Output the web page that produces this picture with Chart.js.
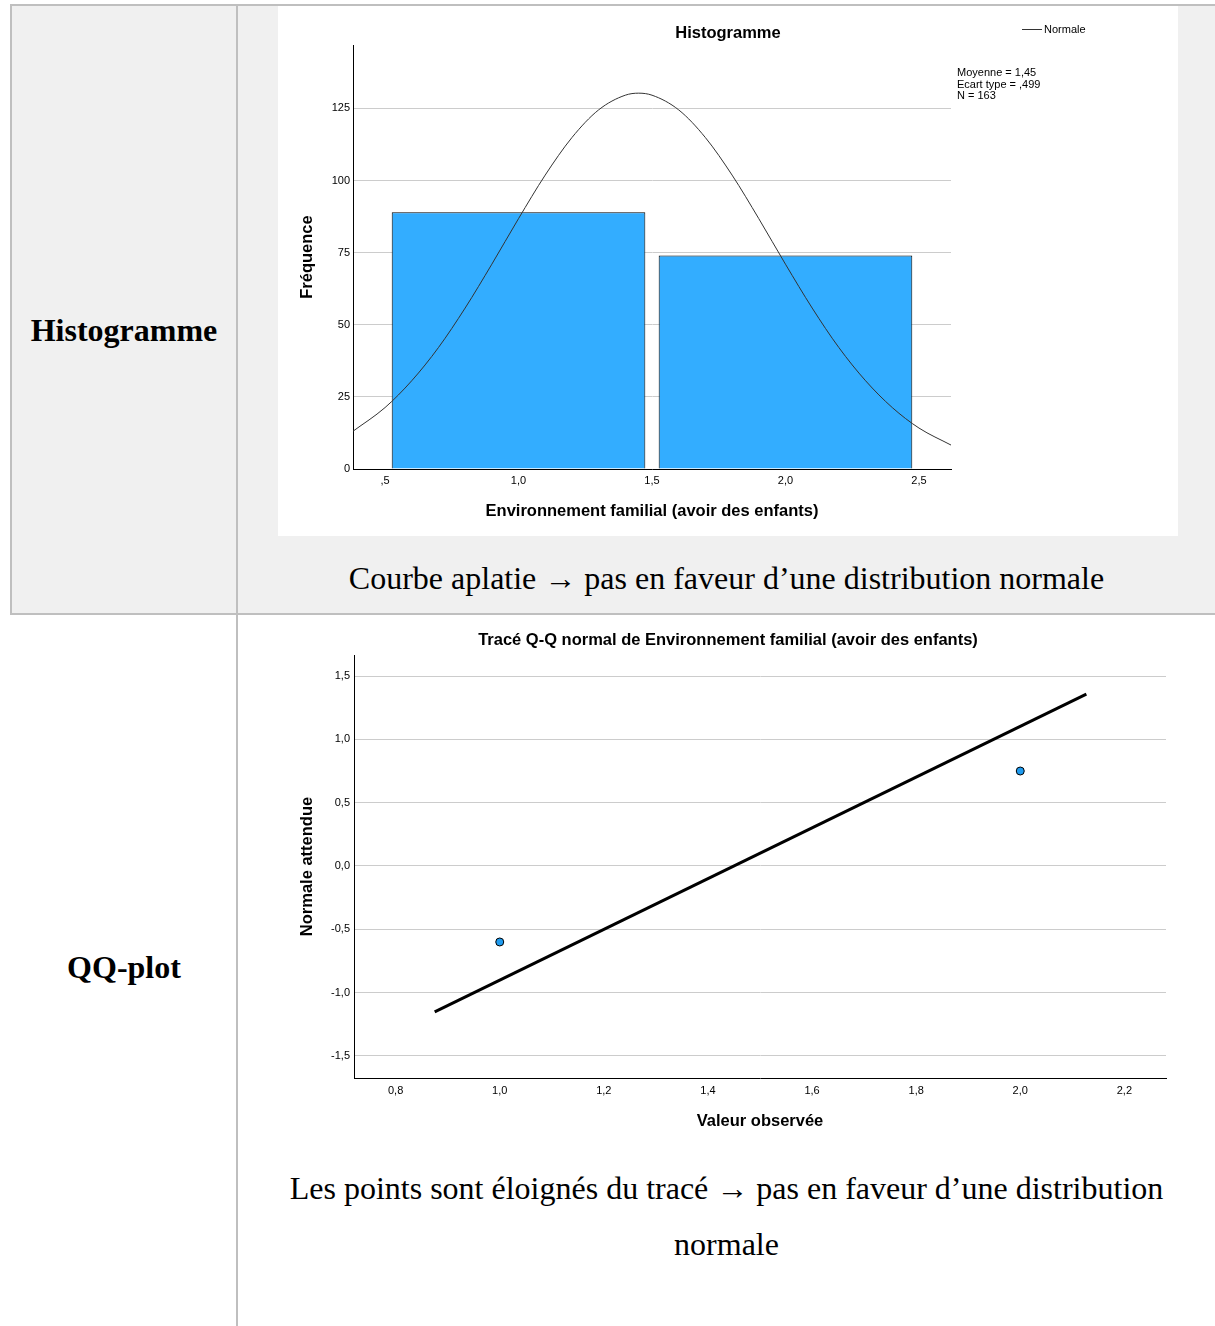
<!DOCTYPE html>
<html>
<head>
<meta charset="utf-8">
<script src="https://cdn.jsdelivr.net/npm/chart.js@4.4.1/dist/chart.umd.min.js"></script>
<style>
body { margin:0; width:1215px; height:1326px; overflow:hidden; background:#fff; position:relative; font-family:"Liberation Sans", Arial, sans-serif; }
.abs { position:absolute; }
.row1 { left:11px; top:5px; width:1204px; height:609px; background:#f0f0f0; }
.line { background:#bfbfbf; }
.serif { font-family:"Liberation Serif","Times New Roman",serif; color:#000; text-align:center; white-space:nowrap; }
.label { left:12px; width:224px; font-size:32px; font-weight:bold; line-height:40px; }
.caption { left:238px; width:977px; font-size:32px; line-height:56px; }
canvas { background:#fff; }
.small { font-size:11px; color:#000; white-space:nowrap; }
</style>
</head>
<body>
<div class="abs row1"></div>
<div class="abs line" style="left:10px;top:4px;width:1205px;height:2px"></div>
<div class="abs line" style="left:10px;top:4px;width:2px;height:611px"></div>
<div class="abs line" style="left:236px;top:4px;width:2px;height:1322px"></div>
<div class="abs line" style="left:10px;top:613px;width:1205px;height:2px"></div>

<div class="abs serif label" style="top:310px">Histogramme</div>
<div class="abs serif label" style="top:947px">QQ-plot</div>

<canvas id="histChart" class="abs" width="900" height="530" style="left:278px;top:6px"></canvas>
<div class="abs" style="left:578px;top:22px;width:300px;text-align:center;font-size:16.5px;font-weight:bold;line-height:20px;color:#000">Histogramme</div>
<div class="abs" style="left:1022px;top:29px;width:20px;height:1px;background:#333"></div>
<div class="abs small" style="left:1044px;top:22px;line-height:14px">Normale</div>
<div class="abs small" style="left:957px;top:67px;line-height:11.5px">Moyenne = 1,45<br>Ecart type = ,499<br>N = 163</div>

<div class="abs serif caption" style="top:550px">Courbe aplatie &rarr; pas en faveur d’une distribution normale</div>

<canvas id="qqChart" class="abs" width="900" height="524" style="left:278px;top:616px"></canvas>

<div class="abs serif caption" style="top:1160px">Les points sont éloignés du tracé &rarr; pas en faveur d’une distribution<br>normale</div>

<script>
// histogram data
const histBins = [1, 2];
const histFreq = [89, 74];
const histXTicks = [0.5, 1.0, 1.5, 2.0, 2.5];
const histYTicks = [0, 25, 50, 75, 100, 125];
// normal curve
const curveX = [0.38, 0.5, 0.6, 0.7, 0.8, 0.9, 1.0, 1.1, 1.2, 1.3, 1.4, 1.45, 1.5, 1.6, 1.7, 1.8, 1.9, 2.0, 2.1, 2.2, 2.3, 2.4, 2.5, 2.62];
const curveY = [13.1, 21.3, 30.6, 42.1, 55.8, 71.0, 86.8, 101.9, 114.9, 124.5, 129.6, 130.3, 129.6, 124.5, 114.9, 101.9, 86.8, 71.0, 55.8, 42.1, 30.6, 21.3, 14.2, 8.3];

// QQ plot data
const qqObserved = [1, 2];
const qqExpected = [-0.6, 0.75];
const qqLineX = [0.875, 2.127];
const qqLineY = [-1.152, 1.357];
const qqXTicks = [0.8, 1.0, 1.2, 1.4, 1.6, 1.8, 2.0, 2.2];
const qqYTicks = [-1.5, -1.0, -0.5, 0.0, 0.5, 1.0, 1.5];

const frNum = (v, dropZero) => {
    let s = v.toFixed(1).replace('.', ',');
    if (dropZero) s = s.replace(/^0,/, ',');
    return s;
};
const setTicks = list => s => { s.ticks = list.map(v => ({ value: v })); };

const tickFont = { family: 'Liberation Sans', size: 11 };
const axisTitleFont = { family: 'Liberation Sans', size: 16.5, weight: 'bold' };
const titleFont = { family: 'Liberation Sans', size: 16.5, weight: 'bold' };
const gridColor = '#cccccc';

Chart.defaults.color = '#000';

//histogram
new Chart(document.getElementById('histChart'), {
    type: 'bar',
    data: {
        datasets: [
            {
                type: 'line',
                data: curveX.map((x, i) => ({ x: x, y: curveY[i] })),
                borderColor: '#333',
                borderWidth: 1,
                pointRadius: 0,
                cubicInterpolationMode: 'monotone',
                order: 1
            },
            {
                data: histBins.map((x, i) => ({ x: x, y: histFreq[i] })),
                backgroundColor: '#33adff',
                borderColor: '#000',
                borderWidth: 1,
                barPercentage: 1.9,
                categoryPercentage: 1,
                order: 2
            }
        ]
    },
    options: {
        responsive: false,
        animation: false,
        layout: { padding: { left: 0, right: 227, top: 39, bottom: 0 } },
        plugins: {
            legend: { display: false },
            tooltip: { enabled: false },
            title: { display: false }
        },
        scales: {
            x: {
                type: 'linear',
                min: 0.38,
                max: 2.62,
                offset: false,
                afterBuildTicks: setTicks(histXTicks),
                afterFit: s => { s.height = 67; },
                ticks: { font: tickFont, padding: 5, maxRotation: 0, autoSkip: false, callback: v => frNum(v, true) },
                grid: { display: false, drawTicks: false },
                border: { display: true, color: '#000', width: 1 },
                title: { display: true, text: 'Environnement familial (avoir des enfants)', font: axisTitleFont, padding: { top: 0, bottom: 15.1 } }
            },
            y: {
                min: 0,
                max: 147,
                afterBuildTicks: setTicks(histYTicks),
                afterFit: s => { s.width = 75; },
                ticks: { font: tickFont, padding: 3, autoSkip: false },
                grid: { color: gridColor, drawTicks: false },
                border: { display: true, color: '#000', width: 1 },
                title: { display: true, text: 'Fréquence', font: axisTitleFont, padding: { top: 19.1, bottom: 0 } }
            }
        }
    }
});

//qq plot
new Chart(document.getElementById('qqChart'), {
    type: 'scatter',
    data: {
        datasets: [
            {
                data: qqObserved.map((x, i) => ({ x: x, y: qqExpected[i] })),
                backgroundColor: '#1f9bef',
                borderColor: '#000',
                borderWidth: 1,
                pointRadius: 4,
                order: 1
            },
            {
                type: 'line',
                data: qqLineX.map((x, i) => ({ x: x, y: qqLineY[i] })),
                borderColor: '#000',
                borderWidth: 3,
                pointRadius: 0,
                order: 2
            }
        ]
    },
    options: {
        responsive: false,
        animation: false,
        layout: { padding: { left: 12, right: 12, top: 0, bottom: 0 } },
        plugins: {
            legend: { display: false },
            tooltip: { enabled: false },
            title: {
                display: true,
                text: 'Tracé Q-Q normal de Environnement familial (avoir des enfants)',
                font: titleFont,
                color: '#000',
                padding: { top: 14.1, bottom: 5.1 }
            }
        },
        scales: {
            x: {
                type: 'linear',
                min: 0.72,
                max: 2.28,
                afterBuildTicks: setTicks(qqXTicks),
                afterFit: s => { s.height = 62; },
                ticks: { font: tickFont, padding: 6, maxRotation: 0, autoSkip: false, callback: v => frNum(v, false) },
                grid: { display: false, drawTicks: false },
                border: { display: true, color: '#000', width: 1 },
                title: { display: true, text: 'Valeur observée', font: axisTitleFont, padding: { top: 0, bottom: 9.1 } }
            },
            y: {
                min: -1.674,
                max: 1.666,
                afterBuildTicks: setTicks(qqYTicks),
                afterFit: s => { s.width = 64; },
                ticks: { font: tickFont, padding: 4, autoSkip: false, callback: v => frNum(v, false) },
                grid: { color: gridColor, drawTicks: false },
                border: { display: true, color: '#000', width: 1 },
                title: { display: true, text: 'Normale attendue', font: axisTitleFont, padding: { top: 7.1, bottom: 0 } }
            }
        }
    }
});
</script>
</body>
</html>
